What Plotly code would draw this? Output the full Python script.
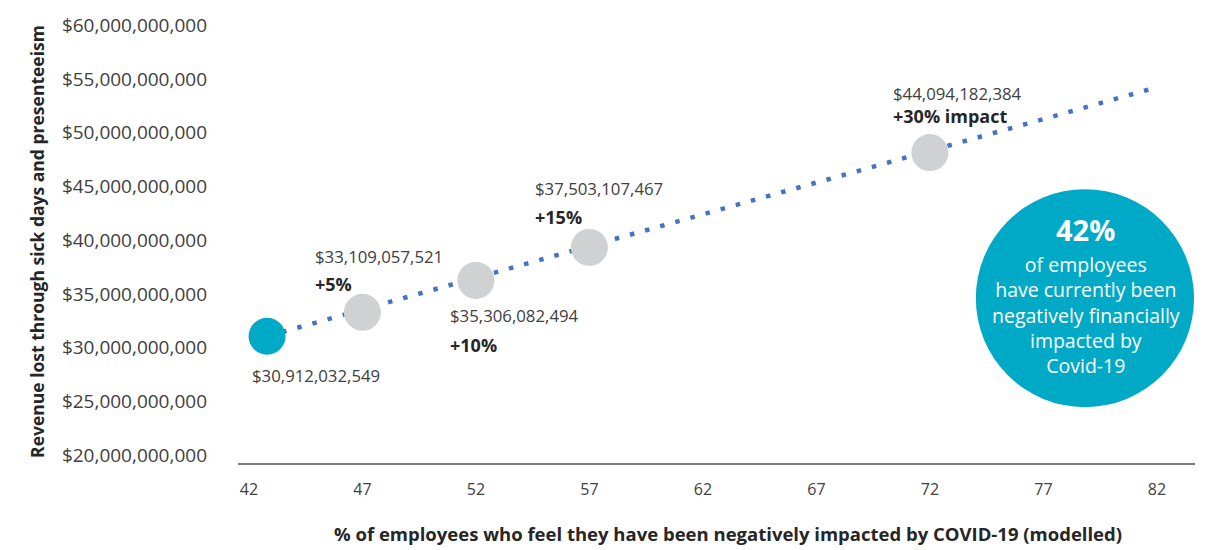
import plotly.graph_objects as go

# ---- data ----
x_pct = [42.8, 47, 52, 57, 72]                       # % employees impacted
y_rev_b = [31.06, 33.29, 36.26, 39.33, 48.16]         # plotted revenue lost (billions $)
point_colors = ["#00A9C6", "#D0D1D3", "#D0D1D3", "#D0D1D3", "#D0D1D3"]
value_labels = ["$30,912,032,549", "$33,109,057,521", "$35,306,082,494",
                "$37,503,107,467", "$44,094,182,384"]
impact_labels = ["", "+5%", "+10%", "+15%", "+30% impact"]

trend_x = [42.8, 82]
trend_y = [31.06, 54.23]

x_ticks = [42, 47, 52, 57, 62, 67, 72, 77, 82]
y_ticks = [20, 25, 30, 35, 40, 45, 50, 55, 60]
y_tick_text = ["$%d,000,000,000" % v for v in y_ticks]

# label offsets (pixels) relative to each point
val_shift = [(-17, -39), (-49, 56), (-28, -35), (-56, 59), (-39, 59)]
imp_shift = [(0, 0), (-49, 28), (-28, -65), (-56, 30), (-39, 37)]

FONT = "Open Sans"

fig = go.Figure()
fig.add_trace(go.Scatter(
    x=trend_x, y=trend_y, mode="lines",
    line=dict(color="#4472C4", width=4.5, dash="4.5px,11.2px"),
    hoverinfo="skip", showlegend=False))
fig.add_trace(go.Scatter(
    x=x_pct, y=y_rev_b, mode="markers",
    marker=dict(size=37, color=point_colors, line=dict(width=0)),
    showlegend=False))

annotations = []
for xi, yi, vl, il, vs, ish in zip(x_pct, y_rev_b, value_labels, impact_labels, val_shift, imp_shift):
    annotations.append(dict(x=xi, y=yi, xref="x", yref="y", text=vl, showarrow=False,
                            xanchor="left", yanchor="middle", xshift=vs[0], yshift=vs[1],
                            font=dict(family=FONT, size=16.8, color="#404040")))
    if il:
        annotations.append(dict(x=xi, y=yi, xref="x", yref="y", text="<b>" + il + "</b>",
                                showarrow=False, xanchor="left", yanchor="middle",
                                xshift=ish[0], yshift=ish[1],
                                font=dict(family=FONT, size=18, color="#262626")))

# callout circle text
circle_lines = ["of employees", "have currently been", "negatively financially",
                "impacted by", "Covid-19"]
annotations.append(dict(x=0.886, y=0.526, xref="paper", yref="paper",
                        text="<b>42%</b>", showarrow=False, xanchor="center", yanchor="middle",
                        font=dict(family=FONT, size=29, color="white")))
annotations.append(dict(x=0.886, y=0.335, xref="paper", yref="paper",
                        text="<br>".join(circle_lines), showarrow=False,
                        xanchor="center", yanchor="middle", align="center",
                        font=dict(family=FONT, size=19.5, color="white")))

# x-axis title as annotation (slightly right of plot centre, as in reference)
annotations.append(dict(x=0.5, y=0, xref="paper", yref="paper",
                        text="<b>% of employees who feel they have been negatively impacted by COVID-19 (modelled)</b>",
                        showarrow=False, xanchor="center", yanchor="middle",
                        xshift=11, yshift=-70,
                        font=dict(family=FONT, size=18.5, color="#262626")))

# page body adds an 8px offset; compensate
fig.update_layout(
    width=1197, height=542,
    margin=dict(l=230, r=10, t=12, b=87),
    paper_bgcolor="white", plot_bgcolor="white",
    font=dict(family=FONT, color="#404040"),
    shapes=[dict(type="circle", xref="paper", yref="paper",
                 x0=0.771, x1=0.999, y0=0.126, y1=0.618,
                 fillcolor="#00A9C6", line=dict(width=0), layer="below")],
    annotations=annotations,
    xaxis=dict(range=[41.52, 83.68], tickvals=x_ticks, showgrid=False, zeroline=False,
               showline=True, linecolor="#7F7F7F", linewidth=1.5, ticks="",
               ticklabelstandoff=11, automargin=False,
               tickfont=dict(family=FONT, size=16, color="#404040")),
    yaxis=dict(range=[19.26, 60.5], tickvals=y_ticks, ticktext=y_tick_text,
               showgrid=False, zeroline=False, showline=False, ticks="",
               ticklabelstandoff=30, automargin=False,
               tickfont=dict(family=FONT, size=19, color="#404040"),
               title=dict(text="<b>Revenue lost through sick days and presenteeism</b>",
                          font=dict(family=FONT, size=17.5, color="#262626"), standoff=12)),
)

fig.write_html("out.html")
